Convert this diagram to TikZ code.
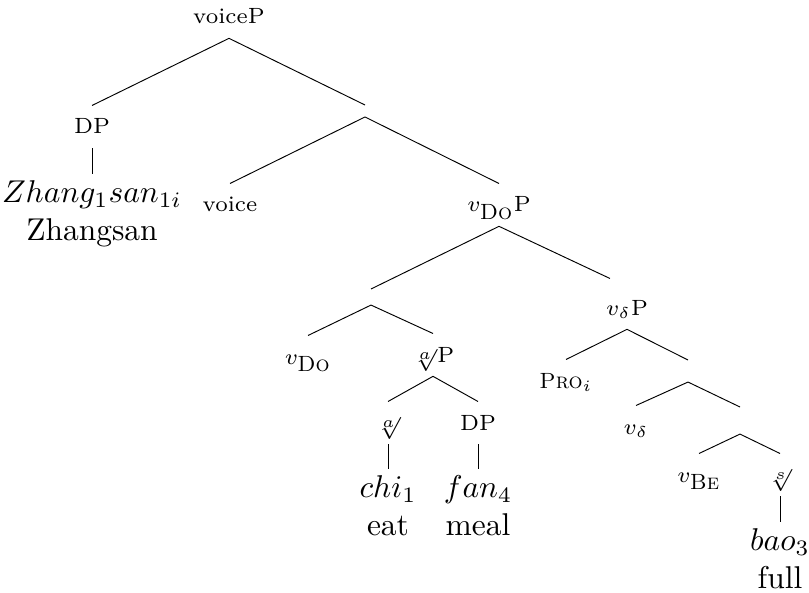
\documentclass[tikz,border=0pt]{standalone}
\usepackage{amsmath}
\usepackage{amssymb}
\usepackage{tikz}

\tikzset{
  cat/.style={font=\scriptsize, anchor=base, inner sep=0pt, text height=8.9pt, text depth=4.4pt},
  leaf/.style={anchor=north, align=center, inner sep=2pt},
  hole/.style={anchor=north, inner sep=0pt, minimum width=0pt, minimum height=#1},
}

\begin{document}
\begin{tikzpicture}[x=0.3175pt, y=-0.3175pt, line width=0.3pt]
\useasboundingbox (0,0) rectangle (809,592);

% Categories
\node[cat] (voicep) at (229,24) {voiceP};
\node[cat] (dpsubj) at (92,134) {DP};
\node[hole=3.5pt] (bar1) at (365,105) {};
\node[cat] (voice) at (230,212) {voice};
\node[cat] (vdop) at (499,212) {$v_{\mbox{\textsc{Do}}}$P};
\node[hole=4.8pt] (bar2) at (371,289) {};
\node[cat] (vdeltap) at (627,315) {$v_{\delta}$P};
\node[cat] (vdo) at (308,364) {$v_{\mbox{\textsc{Do}}}$};
\node[cat] (rootap) at (433,362) {$\sqrt[a]{}$P};
\node[cat] (pro) at (566,388) {\textsc{Pro}$_i$};
\node[hole=6.7pt] (bar3) at (688,360) {};
\node[cat] (vdelta) at (636,434) {$v_{\delta}$};
\node[hole=8.3pt] (bar4) at (740,407) {};
\node[cat] (vbe) at (699,482) {$v_{\mbox{\textsc{Be}}}$};
\node[cat] (roots) at (780,482) {$\sqrt[s]{}$};
\node[cat] (roota) at (388,430) {$\sqrt[a]{}$};
\node[cat] (dpobj) at (478,430) {DP};

% Leaves
\node[leaf] (zhangsan) at (92,174) {$Zhang_1san_{1i}$\\Zhangsan};
\node[leaf] (chi) at (388,469) {$chi_1$\\eat};
\node[leaf] (fan) at (478,469) {$fan_4$\\meal};
\node[leaf] (bao) at (780,522) {$bao_3$\\full};

% Branches
\draw (voicep.south) -- (dpsubj.north);
\draw (voicep.south) -- (bar1.north);
\draw (dpsubj.south) -- (zhangsan.north);
\draw (bar1.south) -- (voice.north);
\draw (bar1.south) -- (vdop.north);
\draw (vdop.south) -- (bar2.north);
\draw[shorten >=6pt] (vdop.south) -- (vdeltap.north);
\draw (bar2.south) -- (vdo.north);
\draw (bar2.south) -- (rootap.north);
\draw (rootap.south) -- (roota.north);
\draw (rootap.south) -- (dpobj.north);
\draw (roota.south) -- (chi.north);
\draw (dpobj.south) -- (fan.north);
\draw (vdeltap.south) -- (pro.north);
\draw (vdeltap.south) -- (bar3.north);
\draw (bar3.south) -- (vdelta.north);
\draw (bar3.south) -- (bar4.north);
\draw (bar4.south) -- (vbe.north);
\draw (bar4.south) -- (roots.north);
\draw (roots.south) -- (bao.north);

\end{tikzpicture}
\end{document}
